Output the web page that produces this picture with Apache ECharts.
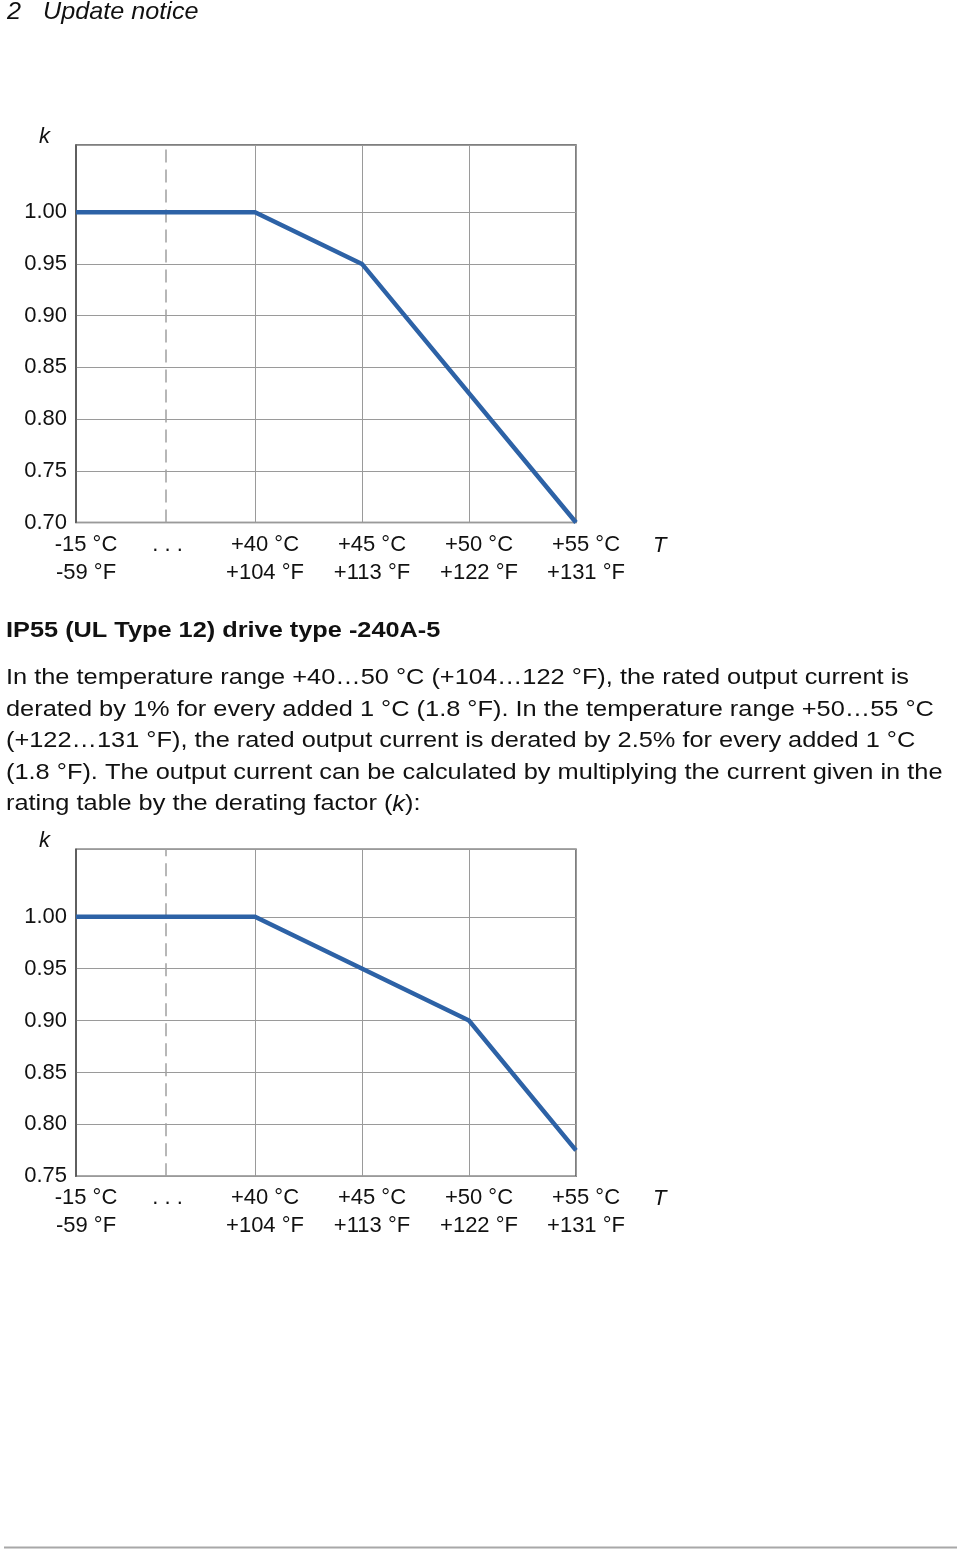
<!DOCTYPE html>
<html>
<head>
<meta charset="utf-8">
<script src="https://cdn.jsdelivr.net/npm/echarts@6/dist/echarts.min.js"></script>
<style>
html,body{margin:0;padding:0;background:#fff;}
#c{width:960px;height:1551px;}
</style>
</head>
<body>
<div id="c"></div>
<script>
// ---- data ----
const tempC = [-15, 40, 45, 50, 55];          // x tick values (°C)
const tempF = [-59, 104, 113, 122, 131];      // matching °F labels
const gapMark = 12.5;                          // position of the "…" (axis gap)
const kTicks = [0.70, 0.75, 0.80, 0.85, 0.90, 0.95, 1.00];
const kMax = 1.065;

const chart1T = [-15, 40, 45, 55];
const chart1K = [1.00, 1.00, 0.95, 0.70];
const chart2T = [-15, 40, 50, 55];
const chart2K = [1.00, 1.00, 0.90, 0.775];

const bodyLines = [
  'In the temperature range +40\u202650 \u00b0C (+104\u2026122 \u00b0F), the rated output current is',
  'derated by 1% for every added 1 \u00b0C (1.8 \u00b0F). In the temperature range +50\u202655 \u00b0C',
  '(+122\u2026131 \u00b0F), the rated output current is derated by 2.5% for every added 1 \u00b0C',
  '(1.8 \u00b0F). The output current can be calculated by multiplying the current given in the',
  'rating table by the derating factor ({i|k}):'
];

// ---- chart ----
const FONT = '"Liberation Sans", Arial, sans-serif';
const lineColor = '#2d62a6';

function xLabel(v) {
  if (Math.abs(v - gapMark) < 1e-6) return '{d|. . .}';
  const i = tempC.indexOf(v);
  if (i < 0) return '';
  const c = (tempC[i] > 0 ? '+' : '') + tempC[i] + ' \u00b0C';
  const f = (tempF[i] > 0 ? '+' : '') + tempF[i] + ' \u00b0F';
  return c + '\n' + f;
}

function makeX(gridIndex) {
  return {
    type: 'value', gridIndex: gridIndex,
    min: -15, max: 55,
    breaks: [
      { start: -14, end: 12, gap: 2.682 },
      { start: 13, end: 39, gap: 2.682 }
    ],
    breakArea: { show: false },
    name: 'T', nameLocation: 'end', nameGap: 77, nameMoveOverlap: false,
    nameTextStyle: { fontStyle: 'italic', fontSize: 22, fontFamily: FONT, color: '#111',
      verticalAlign: 'top', lineHeight: 46 },
    axisLine: { show: false, onZero: false },
    axisTick: { show: false, customValues: [40, 45, 50, 55] },
    splitLine: { show: true, lineStyle: { color: '#9a9a9a', width: 1 } },
    axisLabel: {
      customValues: [-15, gapMark, 40, 45, 50, 55],
      formatter: xLabel,
      fontSize: 22, lineHeight: 28, fontFamily: FONT, color: '#111',
      margin: 8, padding: [0, 0, 0, 20],
      rich: { d: { fontSize: 22, fontFamily: FONT, color: '#111', lineHeight: 28, padding: [0, 16, 0, 0] } }
    }
  };
}

function makeY(gridIndex, min) {
  const vals = kTicks.filter(v => v >= min - 1e-9);
  return {
    type: 'value', gridIndex: gridIndex,
    min: min, max: kMax, interval: 0.05,
    name: 'k', nameLocation: 'end', nameGap: -3, nameMoveOverlap: false,
    nameTextStyle: { fontStyle: 'italic', fontSize: 22, fontFamily: FONT, color: '#111',
      align: 'right', padding: [0, 26, 0, 0] },
    axisLine: { show: true, onZero: false, lineStyle: { color: '#555', width: 1.5 } },
    axisTick: { show: false, customValues: vals.concat([kMax]) },
    splitLine: { show: true, lineStyle: { color: '#9a9a9a', width: 1 } },
    axisLabel: {
      customValues: vals,
      formatter: v => v.toFixed(2),
      fontSize: 22, fontFamily: FONT, color: '#111', margin: 9
    }
  };
}

function makeSeries(idx, T, K) {
  return {
    type: 'line', xAxisIndex: idx, yAxisIndex: idx,
    data: T.map((t, i) => [t, K[i]]),
    symbol: 'none', silent: true, z: 5,
    lineStyle: { color: lineColor, width: 4.5, cap: 'butt', join: 'miter' },
    markLine: {
      silent: true, symbol: ['none', 'none'], label: { show: false },
      lineStyle: { color: '#a0a0a0', width: 1.5, type: [13, 7] },
      data: [{ xAxis: gapMark }], z: 1
    }
  };
}

const textColor = '#111';
const graphics = [
  { type: 'text', x: 7, y: 12, scaleX: 1.05, style: { text: '2', x: 0, y: 0, fill: textColor, font: 'italic 24px ' + FONT, verticalAlign: 'middle' } },
  { type: 'text', x: 43, y: 12, scaleX: 1.05, style: { text: 'Update notice', x: 0, y: 0, fill: textColor, font: 'italic 24px ' + FONT, verticalAlign: 'middle' } },
  { type: 'text', x: 6, y: 631, scaleX: 1.151, style: { text: 'IP55 (UL Type 12) drive type -240A-5', x: 0, y: 0, fill: textColor, font: 'bold 22px ' + FONT, verticalAlign: 'middle' } },
  { type: 'line', shape: { x1: 4, y1: 1547.5, x2: 957, y2: 1547.5 }, style: { stroke: '#a8a8a8', lineWidth: 2 } }
];
bodyLines.forEach((t, i) => {
  graphics.push({
    type: 'text', x: 6, y: 678 + i * 31.6, scaleX: 1.153,
    style: {
      text: t, x: 0, y: 0,
      fill: textColor, fontSize: 22, fontFamily: FONT, verticalAlign: 'middle',
      rich: { i: { fontStyle: 'italic', fontSize: 22, fontFamily: FONT, fill: textColor } }
    }
  });
});

const chart = echarts.init(document.getElementById('c'), null, { renderer: 'canvas' });
chart.setOption({
  backgroundColor: '#fff',
  animation: false,
  grid: [
    { left: 76, top: 145, width: 500, height: 377.5, show: true, borderColor: '#555', borderWidth: 1.5, containLabel: false },
    { left: 76, top: 849.3, width: 500, height: 327, show: true, borderColor: '#555', borderWidth: 1.5, containLabel: false }
  ],
  xAxis: [makeX(0), makeX(1)],
  yAxis: [makeY(0, 0.70), makeY(1, 0.75)],
  series: [makeSeries(0, chart1T, chart1K), makeSeries(1, chart2T, chart2K)],
  graphic: graphics
});
</script>
</body>
</html>
